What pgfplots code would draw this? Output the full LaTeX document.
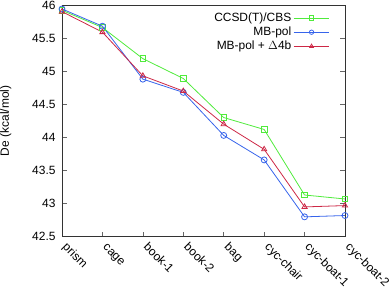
\documentclass[border=0pt]{standalone}
\usepackage{pgfplots}
\pgfplotsset{compat=1.18}
\usepackage{fontspec}
\setmainfont{Liberation Sans}
\definecolor{cgreen}{RGB}{80,235,60}
\definecolor{cblue}{RGB}{55,100,235}
\definecolor{cred}{RGB}{205,40,70}
\begin{document}
\begin{tikzpicture}
\begin{axis}[
  name=ax,
  width=283bp, height=231.7bp, scale only axis,
  xmin=0, xmax=7, ymin=42.5, ymax=46,
  xtick={0,...,7},
  xticklabels={prism,cage,book-1,book-2,bag,cyc-chair,cyc-boat-1,cyc-boat-2},
  xticklabel style={rotate=-45, anchor=base west, inner sep=0pt},
  xticklabel shift=11bp,
  ytick={42.5,43,43.5,44,44.5,45,45.5,46},
  yticklabels={42.5,43,43.5,44,44.5,45,45.5,46},
  yticklabel style={xshift=-3bp},
  tick align=inside, xtick pos=bottom, ytick pos=both,
  major tick length=5bp,
  tick style={color=gray!80!black, line width=0.6pt},
  axis line style={line width=0.8pt, color=black!80},
  ylabel={De (kcal/mol)},
  ylabel style={at={(rel axis cs:-0.219,0.5)}, anchor=north, inner sep=0pt},
  font=\fontsize{12}{14}\selectfont,
  legend style={at={(rel axis cs:0.947,0.975)}, anchor=north east, draw=none, fill=none,
    inner sep=0pt, legend cell align=right, row sep=0bp, font=\fontsize{12}{14}\selectfont},
  legend plot pos=right,
  legend image code/.code={\draw[mark repeat=2,mark phase=2,mark size=2.2pt] plot coordinates {(0cm,0cm) (0.63cm,0cm) (1.26cm,0cm)};},
  every axis plot/.append style={line width=0.8pt},
]
\addplot[color=cgreen, mark=square, mark size=2.8pt] coordinates {
(0,45.92) (1,45.66) (2,45.19) (3,44.89) (4,44.30) (5,44.12) (6,43.13) (7,43.07)};
\addlegendentry{CCSD(T)/CBS}
\addplot[color=cblue, mark=o, mark size=3pt] coordinates {
(0,45.94) (1,45.68) (2,44.88) (3,44.68) (4,44.03) (5,43.66) (6,42.80) (7,42.82)};
\addlegendentry{MB-pol}
\addplot[color=cred, mark=triangle, mark size=3pt] coordinates {
(0,45.90) (1,45.59) (2,44.93) (3,44.70) (4,44.20) (5,43.82) (6,42.95) (7,42.97)};
\addlegendentry{MB-pol + $\Delta$4b}
\end{axis}
\pgfresetboundingbox
\useasboundingbox ([xshift=-62bp,yshift=-52.3bp]ax.south west) rectangle ([xshift=45bp,yshift=5bp]ax.north east);
\end{tikzpicture}
\end{document}
